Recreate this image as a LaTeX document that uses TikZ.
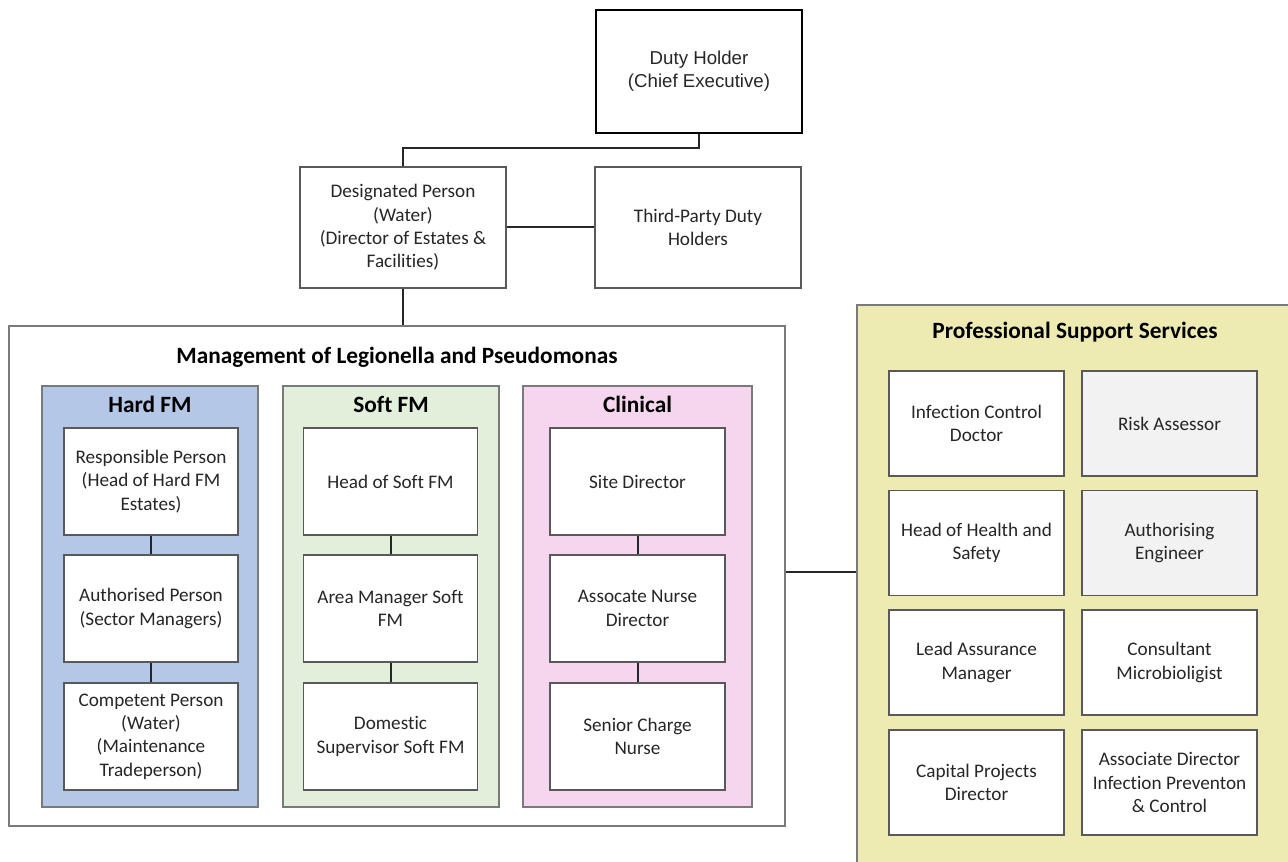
\documentclass[tikz,border=0pt]{standalone}
\usepackage{fontspec}
\setmainfont[Ligatures=NoCommon]{Carlito}
\newfontfamily\arialfont{Liberation Sans}
\usetikzlibrary{positioning}

\definecolor{hardblue}{HTML}{B4C7E7}
\definecolor{softgreen}{HTML}{E2EFDA}
\definecolor{clinpink}{HTML}{F6D6EE}
\definecolor{supportkhaki}{HTML}{EEEBB2}
\definecolor{lightgrey}{HTML}{F2F2F2}
\definecolor{edgegrey}{HTML}{595959}

\tikzset{
  role/.style={draw=edgegrey, line width=0.9pt, fill=white, align=center,
    text=black!85, font=\fontsize{14.4}{17.5}\selectfont, inner sep=2pt},
  colbox/.style={role, minimum width=130.5pt, minimum height=80.25pt},
  supbox/.style={role, minimum width=131.25pt, minimum height=78.75pt},
  group/.style={draw=edgegrey!80, line width=0.9pt},
  grouptitle/.style={font=\fontsize{17.5}{20}\selectfont\bfseries, text=black},
  link/.style={line width=1.5pt, black!85}
}

\begin{document}
\begin{tikzpicture}[x=0.75pt,y=-0.75pt]
  \clip (0,0) rectangle (1288,862);
  \fill[white] (0,0) rectangle (1288,862);

  % Spitze
  \node[role, line width=2.2pt, draw=black, minimum width=154.5pt, minimum height=92.25pt,
    font=\arialfont\fontsize{14}{17.5}\selectfont] (duty) at (699,71.5)
    {Duty Holder\\(Chief Executive)};
  \node[role, minimum width=154.5pt, minimum height=90.75pt] (dp) at (403,227.5)
    {Designated Person\\(Water)\\(Director of Estates \&\\Facilities)};
  \node[role, minimum width=154.5pt, minimum height=90.75pt] (tp) at (698,227.5)
    {Third-Party Duty\\Holders};

  % Management
  \node[group, fill=white, minimum width=582pt, minimum height=375pt] (mgmt) at (397,576) {};
  \node[grouptitle] (mgmttitle) at (397,357) {Management of Legionella and Pseudomonas};

  \node[group, fill=hardblue, minimum width=162pt, minimum height=315.75pt] (hard) at (150,596.5) {};
  \node[group, fill=softgreen, minimum width=162pt, minimum height=315.75pt] (soft) at (391,596.5) {};
  \node[group, fill=clinpink, minimum width=171.75pt, minimum height=315.75pt] (clin) at (637.5,596.5) {};
  \node[grouptitle] (hardtitle) at (150,404) {Hard FM};
  \node[grouptitle] (softtitle) at (391,404) {Soft FM};
  \node[grouptitle] (clintitle) at (637.5,404) {Clinical};

  % Hard FM
  \node[colbox] (rp) at (151,481.5) {Responsible Person\\(Head of Hard FM\\Estates)};
  \node[colbox] (ap) at (151,608.5) {Authorised Person\\(Sector Managers)};
  \node[colbox] (cp) at (151,736.5) {Competent Person\\(Water)\\(Maintenance\\Tradeperson)};

  % Soft FM
  \node[colbox] (hsfm) at (390.5,481.5) {Head of Soft FM};
  \node[colbox] (amsfm) at (390.5,608.5) {Area Manager Soft\\FM};
  \node[colbox] (dssfm) at (390.5,736.5) {Domestic\\Supervisor Soft FM};

  % Clinical
  \node[colbox, minimum width=131.25pt] (sd) at (637.5,481.5) {Site Director};
  \node[colbox, minimum width=131.25pt] (and) at (637.5,608.5) {Assocate Nurse\\Director};
  \node[colbox, minimum width=131.25pt] (scn) at (637.5,736.5) {Senior Charge\\Nurse};

  % Professional Support Services
  \node[group, fill=supportkhaki, minimum width=326.25pt, minimum height=420.75pt] (pss) at (1074.5,585.5) {};
  \node[grouptitle] (psstitle) at (1075,332) {Professional Support Services};

  \node[supbox] (icd) at (976.5,423.5) {Infection Control\\Doctor};
  \node[supbox, fill=lightgrey] (ra) at (1169.5,423.5) {Risk Assessor};
  \node[supbox] (hhs) at (976.5,543) {Head of Health and\\Safety};
  \node[supbox, fill=lightgrey] (ae) at (1169.5,543) {Authorising\\Engineer};
  \node[supbox] (lam) at (976.5,662.5) {Lead Assurance\\Manager};
  \node[supbox] (cm) at (1169.5,662.5) {Consultant\\Microbioligist};
  \node[supbox] (cpd) at (976.5,782.5) {Capital Projects\\Director};
  \node[supbox] (adipc) at (1169.5,782.5) {Associate Director\\Infection Preventon\\\& Control};

  % Verbindungen
  \draw[link] (duty.south) -- ++(0,14) -| (dp.north);
  \draw[link] (dp.east) -- (tp.west);
  \draw[link] (dp.south) -- (mgmt.north -| dp.south);
  \draw[link] (mgmt.east |- 0,572) -- (pss.west |- 0,572);
  \draw[link] (rp) -- (ap);
  \draw[link] (ap) -- (cp);
  \draw[link] (hsfm) -- (amsfm);
  \draw[link] (amsfm) -- (dssfm);
  \draw[link] (sd) -- (and);
  \draw[link] (and) -- (scn);
\end{tikzpicture}
\end{document}
